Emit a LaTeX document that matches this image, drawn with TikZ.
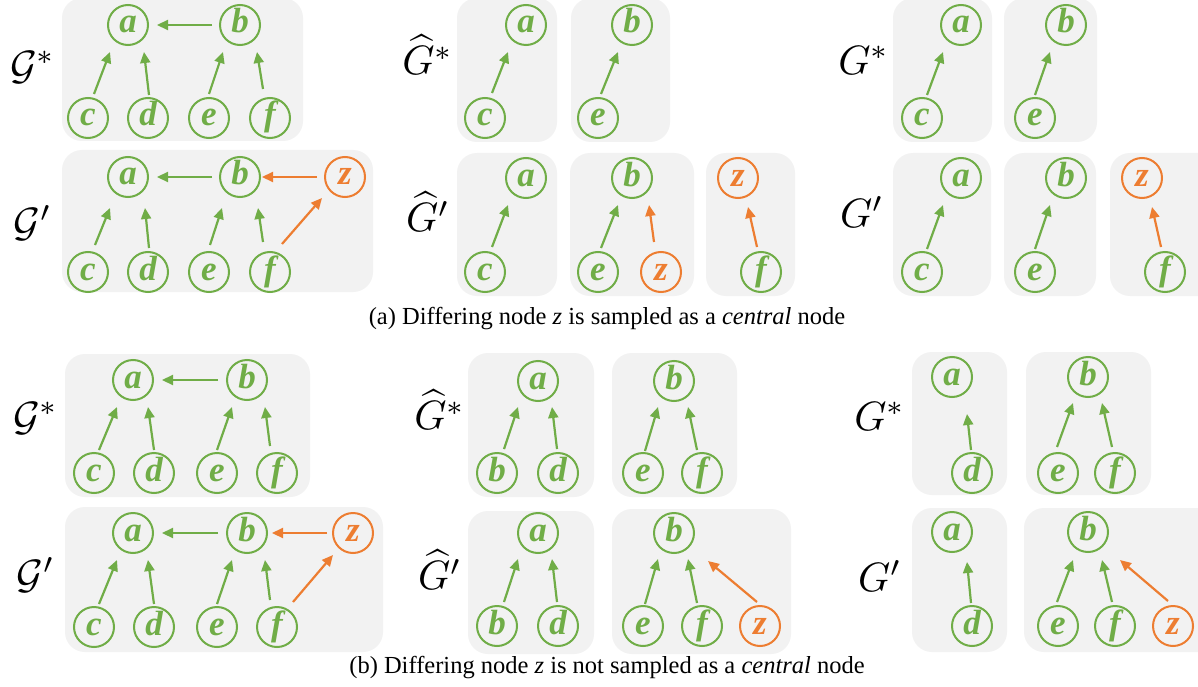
\documentclass[tikz,border=0pt]{standalone}
\usepackage{fontspec}
\setmainfont{Liberation Serif}
\usetikzlibrary{arrows.meta,calc}
\definecolor{gr}{RGB}{112,173,71}
\definecolor{orng}{RGB}{237,125,49}
\definecolor{boxbg}{RGB}{242,242,242}
\tikzset{
 vtx/.style={circle,draw=gr,line width=2pt,minimum size=40pt,inner sep=0pt,outer sep=0pt,text=gr,
   text height=16pt,text depth=0pt,font=\fontsize{35}{35}\selectfont\bfseries\itshape},
 zvtx/.style={vtx,draw=orng,text=orng},
 garr/.style={draw=gr,line width=2.2pt,-{Triangle[length=11pt,width=10pt]}},
 oarr/.style={garr,draw=orng},
 panel/.style={fill=boxbg,rounded corners=20pt},
 glabel/.style={scale=4.1,inner sep=0pt},
 capt/.style={font=\fontsize{24.5}{28}\selectfont,inner sep=0pt}
}
\begin{document}
\begin{tikzpicture}[x=1pt,y=-1pt]
\fill[white] (0,0) rectangle (1198,687);
\useasboundingbox (0,0) rectangle (1198,687);

% ---------------- (a) ----------------
% P1: G* left
\fill[panel] (62,-2) rectangle (303,141);
\node[glabel] (l1) at (33,67) {$\mathcal{G}^{*}$};
\node[vtx] (p1a) at (128,25) {a};
\node[vtx] (p1b) at (240,25) {b};
\node[vtx] (p1c) at (88,118) {c};
\node[vtx] (p1d) at (148,118) {d};
\node[vtx] (p1e) at (209,118) {e};
\node[vtx] (p1f) at (270,118) {f};
\draw[garr] ($(p1c)+(6,-24)$) -- ($(p1a)+(-18,27)$);
\draw[garr] ($(p1d)+(1,-23)$) -- ($(p1a)+(16,27)$);
\draw[garr] ($(p1e)+(0,-24)$) -- ($(p1b)+(-17,27)$);
\draw[garr] ($(p1f)+(-7,-29)$) -- ($(p1b)+(17,27)$);
\draw[garr] ($(p1b)+(-28,0)$) -- ($(p1a)+(29,0)$);

% P2: G' left
\fill[panel] (62,150) rectangle (373,292);
\node[glabel] (l2) at (33,223) {$\mathcal{G}'$};
\node[vtx] (p2a) at (128,177) {a};
\node[vtx] (p2b) at (240,177) {b};
\node[zvtx] (p2z) at (345,177) {z};
\node[vtx] (p2c) at (88,272) {c};
\node[vtx] (p2d) at (148,272) {d};
\node[vtx] (p2e) at (209,272) {e};
\node[vtx] (p2f) at (270,272) {f};
\draw[garr] ($(p2c)+(7,-27)$) -- ($(p2a)+(-18,31)$);
\draw[garr] ($(p2d)+(1,-24)$) -- ($(p2a)+(17,31)$);
\draw[garr] ($(p2e)+(1,-27)$) -- ($(p2b)+(-18,31)$);
\draw[garr] ($(p2f)+(-7,-30)$) -- ($(p2b)+(18,31)$);
\draw[oarr] ($(p2f)+(12,-28)$) -- ($(p2z)+(-23,21)$);
\draw[oarr] ($(p2z)+(-28,0)$) -- ($(p2b)+(22,0)$);
\draw[garr] ($(p2b)+(-28,0)$) -- ($(p2a)+(29,0)$);

% P3: G-hat*
\node[glabel] (l3) at (428,55) {$\widehat{G}^{*}$};
\fill[panel] (457,-2) rectangle (557,142);
\fill[panel] (571,-2) rectangle (670,142);
\node[vtx] (p3a) at (526,25) {a};
\node[vtx] (p3c) at (485,118) {c};
\node[vtx] (p3b) at (632,25) {b};
\node[vtx] (p3e) at (598,118) {e};
\draw[garr] ($(p3c)+(7,-25)$) -- ($(p3a)+(-18,27)$);
\draw[garr] ($(p3e)+(3,-24)$) -- ($(p3b)+(-14,27)$);

% P4: G-hat'
\node[glabel] (l4) at (428,212) {$\widehat{G}'$};
\fill[panel] (457,153) rectangle (557,296);
\fill[panel] (570,153) rectangle (694,296);
\fill[panel] (706,153) rectangle (795,296);
\node[vtx] (p4a) at (526,178) {a};
\node[vtx] (p4c) at (485,272) {c};
\node[vtx] (p4b) at (632,178) {b};
\node[vtx] (p4e) at (598,272) {e};
\node[zvtx] (p4z) at (661,272) {z};
\node[zvtx] (p4y) at (738,178) {z};
\node[vtx] (p4f) at (761,272) {f};
\draw[garr] ($(p4c)+(7,-25)$) -- ($(p4a)+(-18,27)$);
\draw[garr] ($(p4e)+(3,-24)$) -- ($(p4b)+(-14,27)$);
\draw[oarr] ($(p4z)+(-7,-30)$) -- ($(p4b)+(17,27)$);
\draw[oarr] ($(p4f)+(-4,-25)$) -- ($(p4y)+(10,29)$);

% P5: G* right
\node[glabel] (l5) at (864,60) {$G^{*}$};
\fill[panel] (893,-2) rectangle (992,142);
\fill[panel] (1004,-2) rectangle (1097,142);
\node[vtx] (p5a) at (961,25) {a};
\node[vtx] (p5c) at (922,118) {c};
\node[vtx] (p5b) at (1066,25) {b};
\node[vtx] (p5e) at (1035,118) {e};
\draw[garr] ($(p5c)+(5,-23)$) -- ($(p5a)+(-18,27)$);
\draw[garr] ($(p5e)+(0,-23)$) -- ($(p5b)+(-16,27)$);

% P6: G' right
\node[glabel] (l6) at (862,212) {$G'$};
\fill[panel] (893,153) rectangle (991,296);
\fill[panel] (1004,153) rectangle (1096,296);
\fill[panel] (1110,153) rectangle (1220,296);
\node[vtx] (p6a) at (961,178) {a};
\node[vtx] (p6c) at (922,272) {c};
\node[vtx] (p6b) at (1066,178) {b};
\node[vtx] (p6e) at (1035,272) {e};
\node[zvtx] (p6z) at (1142,178) {z};
\node[vtx] (p6f) at (1165,272) {f};
\draw[garr] ($(p6c)+(5,-23)$) -- ($(p6a)+(-18,27)$);
\draw[garr] ($(p6e)+(0,-23)$) -- ($(p6b)+(-16,27)$);
\draw[oarr] ($(p6f)+(-4,-25)$) -- ($(p6z)+(10,29)$);

\node[capt] (capa) at (607,319) {(a) Differing node \textit{z} is sampled as a \textit{central} node};

% ---------------- (b) ----------------
% Q1: G*
\fill[panel] (65,354) rectangle (310,497);
\node[glabel] (m1) at (36,418) {$\mathcal{G}^{*}$};
\node[vtx] (q1a) at (133,380) {a};
\node[vtx] (q1b) at (247,380) {b};
\node[vtx] (q1c) at (94,473) {c};
\node[vtx] (q1d) at (154,473) {d};
\node[vtx] (q1e) at (217,473) {e};
\node[vtx] (q1f) at (277,473) {f};
\draw[garr] ($(q1c)+(5,-23)$) -- ($(q1a)+(-16,27)$);
\draw[garr] ($(q1d)+(0,-23)$) -- ($(q1a)+(15,27)$);
\draw[garr] ($(q1e)+(0,-23)$) -- ($(q1b)+(-15,27)$);
\draw[garr] ($(q1f)+(-7,-27)$) -- ($(q1b)+(18,27)$);
\draw[garr] ($(q1b)+(-29,0)$) -- ($(q1a)+(29,0)$);

% Q2: G'
\fill[panel] (65,507) rectangle (383,652);
\node[glabel] (m2) at (36,575) {$\mathcal{G}'$};
\node[vtx] (q2a) at (133,533) {a};
\node[vtx] (q2b) at (247,533) {b};
\node[zvtx] (q2z) at (353,533) {z};
\node[vtx] (q2c) at (94,627) {c};
\node[vtx] (q2d) at (154,627) {d};
\node[vtx] (q2e) at (217,627) {e};
\node[vtx] (q2f) at (277,627) {f};
\draw[garr] ($(q2c)+(5,-23)$) -- ($(q2a)+(-16,27)$);
\draw[garr] ($(q2d)+(0,-23)$) -- ($(q2a)+(15,27)$);
\draw[garr] ($(q2e)+(0,-23)$) -- ($(q2b)+(-15,27)$);
\draw[garr] ($(q2f)+(-7,-27)$) -- ($(q2b)+(18,27)$);
\draw[oarr] ($(q2f)+(16,-25)$) -- ($(q2z)+(-20,22)$);
\draw[oarr] ($(q2z)+(-26,0)$) -- ($(q2b)+(25,0)$);
\draw[garr] ($(q2b)+(-29,0)$) -- ($(q2a)+(29,0)$);

% Q3: G-hat*
\node[glabel] (m3) at (440,410) {$\widehat{G}^{*}$};
\fill[panel] (468,353) rectangle (594,497);
\fill[panel] (612,353) rectangle (737,497);
\node[vtx] (q3a) at (538,381) {a};
\node[vtx] (q3b) at (497,473) {b};
\node[vtx] (q3d) at (558,473) {d};
\node[vtx] (q3B) at (674,381) {b};
\node[vtx] (q3e) at (643,473) {e};
\node[vtx] (q3f) at (702,473) {f};
\draw[garr] ($(q3b)+(7,-24)$) -- ($(q3a)+(-20,26)$);
\draw[garr] ($(q3d)+(-1,-24)$) -- ($(q3a)+(14,26)$);
\draw[garr] ($(q3e)+(2,-22)$) -- ($(q3B)+(-16,26)$);
\draw[garr] ($(q3f)+(-5,-23)$) -- ($(q3B)+(14,26)$);

% Q4: G-hat'
\node[glabel] (m4) at (440,570) {$\widehat{G}'$};
\fill[panel] (468,511) rectangle (594,654);
\fill[panel] (612,509) rectangle (791,654);
\node[vtx] (q4a) at (538,533) {a};
\node[vtx] (q4b) at (497,626) {b};
\node[vtx] (q4d) at (558,626) {d};
\node[vtx] (q4B) at (674,533) {b};
\node[vtx] (q4e) at (643,626) {e};
\node[vtx] (q4f) at (702,626) {f};
\node[zvtx] (q4z) at (760,626) {z};
\draw[garr] ($(q4b)+(7,-24)$) -- ($(q4a)+(-20,26)$);
\draw[garr] ($(q4d)+(-1,-24)$) -- ($(q4a)+(14,26)$);
\draw[garr] ($(q4e)+(2,-22)$) -- ($(q4B)+(-16,26)$);
\draw[garr] ($(q4f)+(-5,-23)$) -- ($(q4B)+(14,26)$);
\draw[oarr] ($(q4z)+(-3,-24)$) -- ($(q4B)+(34,28)$);

% Q5: G*
\node[glabel] (m5) at (880,416) {$G^{*}$};
\fill[panel] (912,352) rectangle (1007,495);
\fill[panel] (1026,352) rectangle (1151,495);
\node[vtx] (q5a) at (952,377) {a};
\node[vtx] (q5d) at (972,473) {d};
\node[vtx] (q5b) at (1088,377) {b};
\node[vtx] (q5e) at (1058,473) {e};
\node[vtx] (q5f) at (1115,473) {f};
\draw[garr] ($(q5d)+(-1,-23)$) -- ($(q5a)+(15,37)$);
\draw[garr] ($(q5e)+(-1,-26)$) -- ($(q5b)+(-15,26)$);
\draw[garr] ($(q5f)+(-3,-26)$) -- ($(q5b)+(14,26)$);

% Q6: G'
\node[glabel] (m6) at (880,576) {$G'$};
\fill[panel] (912,508) rectangle (1007,652);
\fill[panel] (1024,508) rectangle (1220,652);
\node[vtx] (q6a) at (952,532) {a};
\node[vtx] (q6d) at (972,626) {d};
\node[vtx] (q6b) at (1088,532) {b};
\node[vtx] (q6e) at (1058,626) {e};
\node[vtx] (q6f) at (1115,626) {f};
\node[zvtx] (q6z) at (1173,626) {z};
\draw[garr] ($(q6d)+(-1,-23)$) -- ($(q6a)+(15,30)$);
\draw[garr] ($(q6e)+(-1,-24)$) -- ($(q6b)+(-15,28)$);
\draw[garr] ($(q6f)+(-3,-24)$) -- ($(q6b)+(14,28)$);
\draw[oarr] ($(q6z)+(-5,-25)$) -- ($(q6b)+(32,28)$);

\node[capt] (capb) at (607,668) {(b) Differing node \textit{z} is not sampled as a \textit{central} node};
\end{tikzpicture}
\end{document}
